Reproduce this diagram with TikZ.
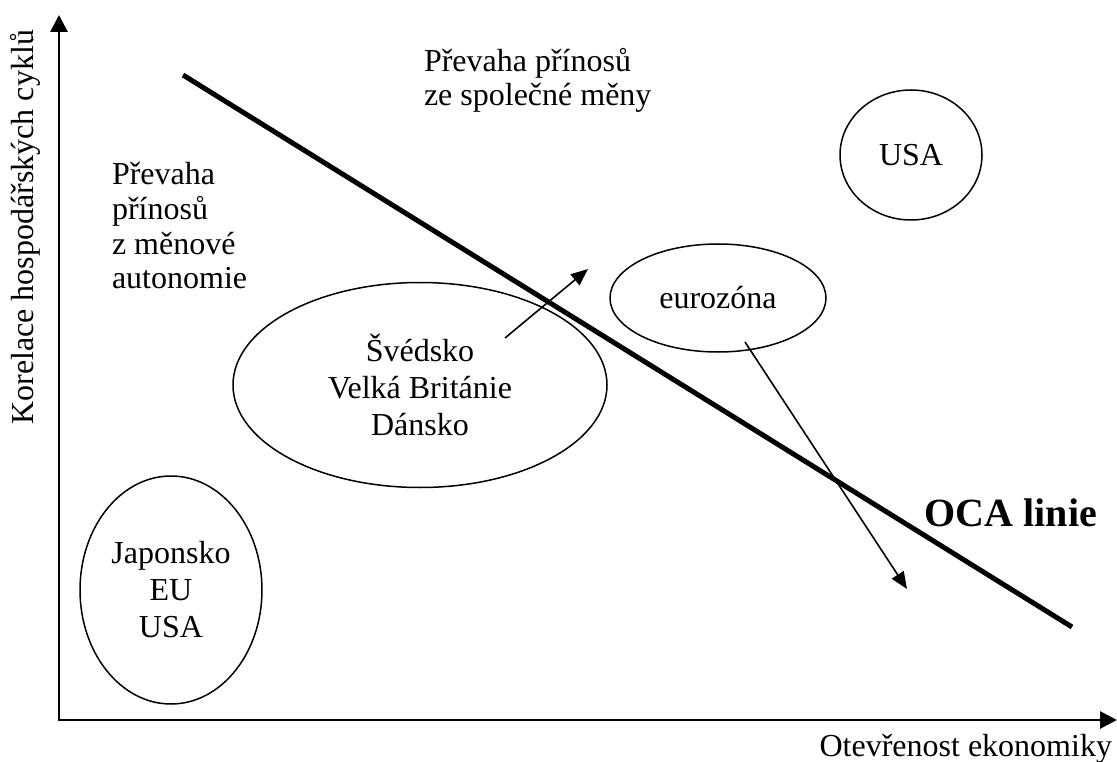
\documentclass[tikz,border=0pt]{standalone}
\usepackage{fontspec}
\setmainfont{Liberation Serif}
\usetikzlibrary{shapes.geometric,arrows.meta}
\begin{document}
\begin{tikzpicture}[x=1pt,y=-1pt,
  every node/.style={font=\fontsize{32}{37}\selectfont, inner sep=0pt, outer sep=0pt},
  ell/.style={draw, ellipse, line width=1.5pt, align=center},
  txt/.style={anchor=base west},
  axisline/.style={line width=2.8pt, {Triangle[length=17pt,width=17pt]}-{Triangle[length=17pt,width=17pt]}},
  moveline/.style={line width=1.6pt, -{Triangle[length=17pt,width=14pt]}},
  ocaline/.style={line width=5pt}]
\useasboundingbox (0,0) rectangle (1117,762);
% axes
\coordinate (ytip) at (59,15);
\coordinate (origin) at (59,720);
\coordinate (xtip) at (1117,720);
\draw[axisline] (ytip) -- (origin) -- (xtip);
\node[rotate=90, anchor=east] (ylab) at (25,30) {Korelace hospodářských cyklů};
\node[anchor=base east] (xlab) at (1112,756) {Otevřenost ekonomiky};
% OCA line
\coordinate (ocaA) at (183,75);
\coordinate (ocaB) at (1072,627);
\draw[ocaline] (ocaA) -- (ocaB);
\node[anchor=base east, font=\fontsize{40}{44}\selectfont\bfseries] (oca) at (1097,526) {OCA linie};
% texts
\node[txt] (l1) at (112,185) {Převaha};
\node[txt] (l2) at (112,220) {přínosů};
\node[txt] (l3) at (112,255) {z měnové};
\node[txt] (l4) at (112,289) {autonomie};
\node[txt] (t1) at (424,72) {Převaha přínosů};
\node[txt] (t2) at (424,106) {ze společné měny};
% ellipses
\node[ell, minimum width=182pt, minimum height=228pt] (jap) at (171,590) {Japonsko\\EU\\USA};
\node[ell, minimum width=374pt, minimum height=205pt] (swe) at (420,385) {Švédsko\\Velká Británie\\Dánsko};
\node[ell, minimum width=216pt, minimum height=108pt] (euro) at (718,298) {eurozóna};
\node[ell, minimum width=142pt, minimum height=130pt] (usa) at (911,155) {USA};
% movement arrows
\coordinate (a1s) at (505,338);
\coordinate (a1e) at (588,269);
\coordinate (a2s) at (745,342);
\coordinate (a2e) at (907,589);
\draw[moveline] (a1s) -- (a1e);
\draw[moveline] (a2s) -- (a2e);
\end{tikzpicture}
\end{document}
